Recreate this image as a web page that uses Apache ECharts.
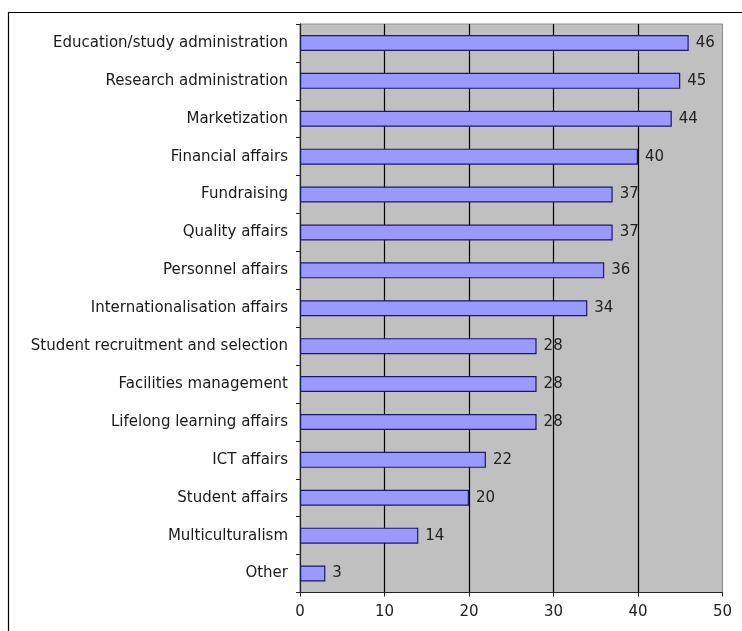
<!DOCTYPE html>
<html>
<head>
<meta charset="utf-8">
<script src="https://cdn.jsdelivr.net/npm/echarts@6/dist/echarts.min.js"></script>
<style>
  html, body { margin: 0; padding: 0; background: #fff; }
  #chart { width: 742px; height: 631px; }
</style>
</head>
<body>
<div id="chart"></div>
<script>
// categories top to bottom
var categories = [
    'Education/study administration',
    'Research administration',
    'Marketization',
    'Financial affairs',
    'Fundraising',
    'Quality affairs',
    'Personnel affairs',
    'Internationalisation affairs',
    'Student recruitment and selection',
    'Facilities management',
    'Lifelong learning affairs',
    'ICT affairs',
    'Student affairs',
    'Multiculturalism',
    'Other'
];
var counts = [46, 45, 44, 40, 37, 37, 36, 34, 28, 28, 28, 22, 20, 14, 3];
var xTicks = [0, 10, 20, 30, 40, 50];

var myChart = echarts.init(document.getElementById('chart'));
var option = {
    animation: false,
    textStyle: { fontFamily: 'DejaVu Sans, sans-serif' },
    graphic: [{
        type: 'rect',
        shape: { x: 8.5, y: 12.5, width: 800, height: 700 },
        style: { fill: 'none', stroke: '#000', lineWidth: 1.2 },
        silent: true
    }],
    grid: {
        left: 300, top: 24, right: 19.5, bottom: 38.5,
        show: true,
        backgroundColor: '#c0c0c0',
        borderColor: '#8a8a8a',
        borderWidth: 1
    },
    xAxis: {
        type: 'value',
        min: xTicks[0],
        max: xTicks[xTicks.length - 1],
        interval: 10,
        axisLine: { show: true, lineStyle: { color: '#222', width: 1.2 } },
        axisTick: { show: true, length: 4, lineStyle: { color: '#222' } },
        axisLabel: { color: '#222', fontSize: 15, margin: 12 },
        splitLine: {
            show: true,
            showMinLine: false,
            showMaxLine: false,
            lineStyle: { color: '#000', width: 1.2 }
        }
    },
    yAxis: {
        type: 'category',
        data: categories,
        inverse: true,
        axisLine: { show: true, lineStyle: { color: '#222', width: 1.2 } },
        axisTick: { show: true, length: 4, lineStyle: { color: '#222' } },
        axisLabel: { color: '#1a1a1a', fontSize: 15, margin: 12 }
    },
    series: [{
        type: 'bar',
        data: counts,
        barWidth: 16,
        itemStyle: {
            color: '#9999ff',
            borderColor: '#1a1a66',
            borderWidth: 1.2
        },
        label: {
            show: true,
            position: 'right',
            distance: 7,
            color: '#222',
            fontSize: 15
        }
    }]
};
myChart.setOption(option);
</script>
</body>
</html>
